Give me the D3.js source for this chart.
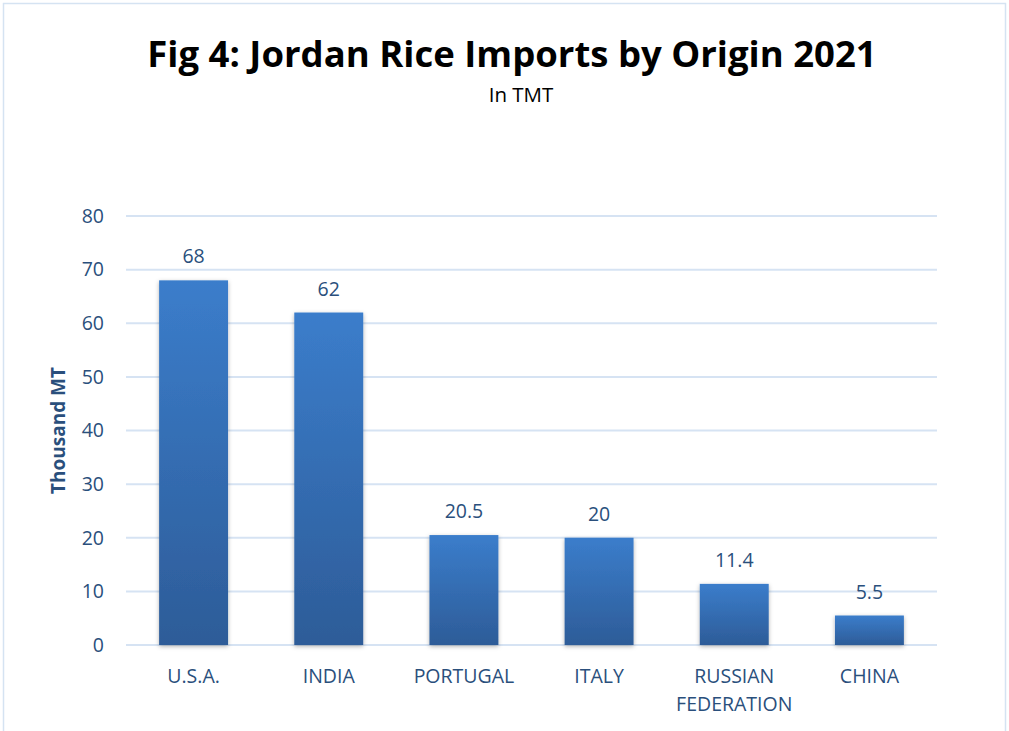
<!DOCTYPE html>
<html>
<head>
<meta charset="utf-8">
<script src="https://cdn.jsdelivr.net/npm/d3@7"></script>
<style>
  body { margin: 0; background: #fff; }
  svg text { font-family: "Open Sans", "Noto Sans", sans-serif; }
</style>
</head>
<body>
<div id="chart"></div>
<script>
// chart data
var countries = ["U.S.A.", "INDIA", "PORTUGAL", "ITALY", "RUSSIAN FEDERATION", "CHINA"];
var imports = [68, 62, 20.5, 20, 11.4, 5.5];
var yTicks = [0, 10, 20, 30, 40, 50, 60, 70, 80];

var width = 1009, height = 731;
var margin = {top: 216, right: 72, bottom: 86, left: 126};

var svg = d3.select("#chart").append("svg")
    .attr("width", width)
    .attr("height", height);

// outer frame like the spreadsheet chart area
svg.append("rect")
    .attr("x", 3.5).attr("y", 3.5)
    .attr("width", width - 7).attr("height", height + 10)
    .attr("fill", "none")
    .attr("stroke", "#d5e3f2")
    .attr("stroke-width", 1.5);

var defs = svg.append("defs");
var grad = defs.append("linearGradient")
    .attr("id", "barGrad")
    .attr("x1", 0).attr("y1", 0).attr("x2", 0).attr("y2", 1);
grad.append("stop").attr("offset", "0%").attr("stop-color", "#3b7dcb");
grad.append("stop").attr("offset", "100%").attr("stop-color", "#2d5c98");

var shadow = defs.append("filter").attr("id", "shadow")
    .attr("x", "-20%").attr("y", "-10%").attr("width", "140%").attr("height", "130%");
shadow.append("feDropShadow")
    .attr("dx", 0).attr("dy", 1.5).attr("stdDeviation", 2)
    .attr("flood-color", "#000").attr("flood-opacity", 0.3);

var x = d3.scaleBand()
    .domain(countries)
    .range([margin.left, width - margin.right])
    .paddingInner(0.49)
    .paddingOuter(0.245);

var y = d3.scaleLinear()
    .domain([0, 80])
    .range([height - margin.bottom, margin.top]);

// gridlines
svg.append("g").selectAll("line")
    .data(yTicks)
    .enter().append("line")
    .attr("x1", margin.left)
    .attr("x2", width - margin.right)
    .attr("y1", d => y(d))
    .attr("y2", d => y(d))
    .attr("stroke", "#d6e3f3")
    .attr("stroke-width", 2);

// y axis labels
var yAxis = d3.axisLeft(y).tickValues(yTicks).tickSize(0).tickPadding(22);
svg.append("g")
    .attr("transform", "translate(" + margin.left + ",0)")
    .call(yAxis)
    .call(g => g.select(".domain").remove())
    .selectAll("text")
    .attr("font-size", "19.5px")
    .attr("fill", "#2a4f7c")
    .style("font-family", "'Open Sans', sans-serif");

// bars
svg.append("g").selectAll("rect")
    .data(imports)
    .enter().append("rect")
    .attr("x", (d, i) => x(countries[i]))
    .attr("y", d => y(d))
    .attr("width", x.bandwidth())
    .attr("height", d => y(0) - y(d))
    .attr("fill", "url(#barGrad)")
    .attr("filter", "url(#shadow)");

// value labels
svg.append("g").selectAll("text")
    .data(imports)
    .enter().append("text")
    .attr("x", (d, i) => x(countries[i]) + x.bandwidth() / 2)
    .attr("y", d => y(d) - 17)
    .attr("text-anchor", "middle")
    .attr("font-size", "19.5px")
    .attr("fill", "#2a4f7c")
    .text(d => d);

// category labels (wrap the long one)
var xl = svg.append("g").selectAll("text")
    .data(countries)
    .enter().append("text")
    .attr("x", d => x(d) + x.bandwidth() / 2)
    .attr("y", 683)
    .attr("text-anchor", "middle")
    .attr("font-size", "19.5px")
    .attr("fill", "#2a4f7c");
xl.each(function(d) {
    var words = d == "RUSSIAN FEDERATION" ? ["RUSSIAN", "FEDERATION"] : [d];
    var t = d3.select(this);
    words.forEach(function(w, i) {
        t.append("tspan")
            .attr("x", t.attr("x"))
            .attr("dy", i == 0 ? 0 : 28)
            .text(w);
    });
});

// y axis title
svg.append("text")
    .attr("transform", "translate(65," + y(40) + ") rotate(-90)")
    .attr("text-anchor", "middle")
    .attr("font-size", "19px")
    .attr("font-weight", "bold")
    .attr("fill", "#2a4f7c")
    .text("Thousand MT");

// titles
svg.append("text")
    .attr("x", 512)
    .attr("y", 67)
    .attr("text-anchor", "middle")
    .attr("font-size", "36.5px")
    .attr("font-weight", "bold")
    .attr("fill", "#000")
    .text("Fig 4: Jordan Rice Imports by Origin 2021");

svg.append("text")
    .attr("x", 521)
    .attr("y", 102)
    .attr("text-anchor", "middle")
    .attr("font-size", "20.5px")
    .attr("fill", "#000")
    .text("In TMT");
</script>
</body>
</html>
